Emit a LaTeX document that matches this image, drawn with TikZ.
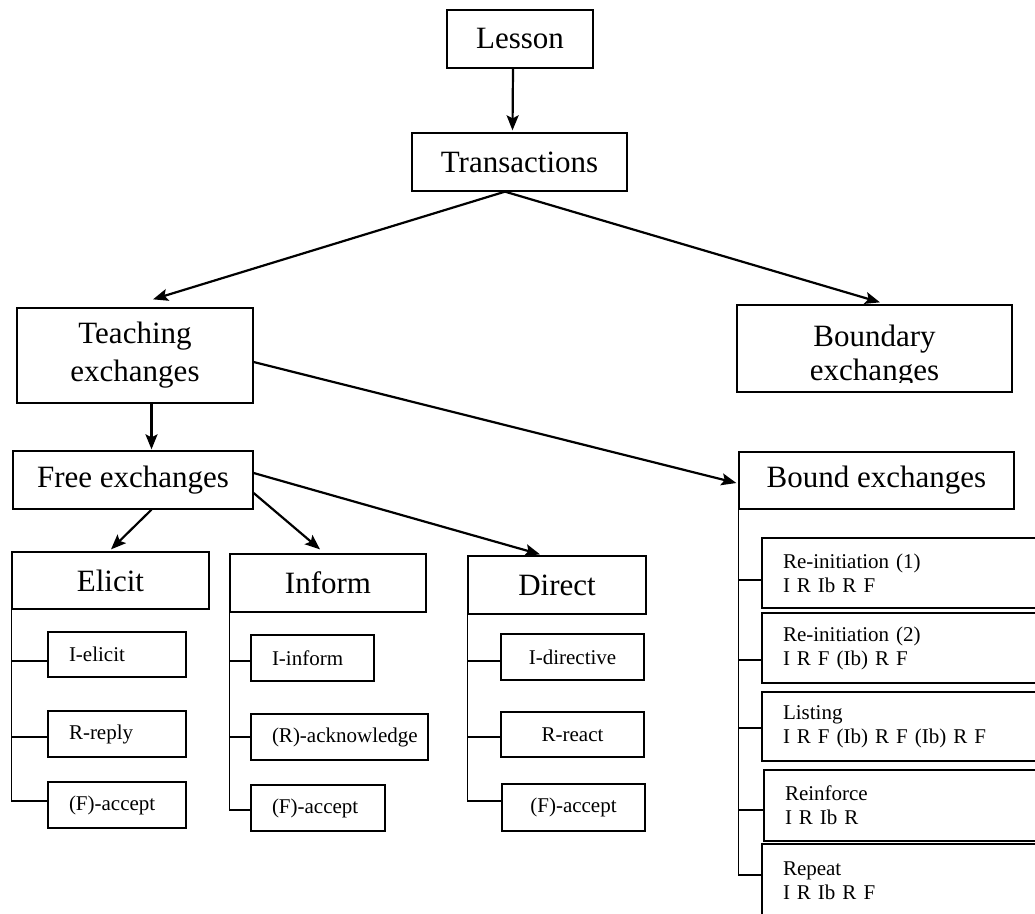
\documentclass[tikz,border=0pt]{standalone}
\usepackage{fontspec}
\setmainfont{Liberation Serif}
\usetikzlibrary{arrows.meta,calc}
\newcommand\mybigfont{\fontsize{31}{38}\selectfont}
\newcommand\mysmallfont{\fontsize{21}{24}\selectfont}
\begin{document}
\begin{tikzpicture}[x=1pt,y=-1pt,
  box/.style={draw,line width=1.3pt,inner sep=0pt,align=center},
  bigbox/.style={box,font=\mybigfont},
  leafl/.style={box,font=\mysmallfont,align=left,inner xsep=21pt},
  leafc/.style={box,font=\mysmallfont,align=center},
  arr/.style={line width=2.2pt,-{Stealth[length=15pt,width=12pt,inset=3pt]}},
  tree/.style={line width=1.3pt}]
\useasboundingbox (0,0) rectangle (1035,913);
\fill[white] (0,0) rectangle (1035,913);

% top levels
\node[bigbox,minimum width=146,minimum height=58] (lesson) at (520,39) {Lesson};
\node[bigbox,minimum width=215,minimum height=58] (trans) at (519.5,162) {Transactions};
\node[bigbox,minimum width=236,minimum height=95] (teach) at (135,355.5) {Teaching\\exchanges};
\node[box,minimum width=275,minimum height=87] (boundary) at (874.5,348.5) {};
\begin{scope}
  \clip (737,305) rectangle (1012,382);
  \node[font=\fontsize{31}{34}\selectfont,align=center,inner sep=0pt] (boundarytext) at (874.5,356) {Boundary\\exchanges};
\end{scope}
\node[bigbox,minimum width=240,minimum height=58] (free) at (133,480) {Free exchanges};
\node[bigbox,minimum width=275,minimum height=57] (bound) at (876.5,480.5) {Bound exchanges};
\node[bigbox,minimum width=197,minimum height=57] (elicit) at (110.5,580.5) {Elicit};
\node[bigbox,minimum width=196,minimum height=58] (inform) at (328,583) {Inform};
\node[bigbox,minimum width=178,minimum height=58] (direct) at (557,585) {Direct};

% elicit leaves
\node[leafl,minimum width=138,minimum height=45,text width=96] (ielicit) at (117,654.5) {I-elicit};
\node[leafl,minimum width=138,minimum height=46,text width=96] (rreply) at (117,734) {R-reply};
\node[leafl,minimum width=138,minimum height=46,text width=96] (faccE) at (117,805) {(F)-accept};
% inform leaves
\node[leafl,minimum width=123,minimum height=46,text width=81] (iinform) at (312.5,658) {I-inform};
\node[leafl,minimum width=177,minimum height=46,text width=135] (rack) at (339.5,737) {\mbox{(R)-acknowledge}};
\node[leafl,minimum width=134,minimum height=46,text width=92] (faccI) at (318,808) {(F)-accept};
% direct leaves
\node[leafc,minimum width=143,minimum height=46] (idir) at (572.5,657) {I-directive};
\node[leafc,minimum width=143,minimum height=45] (rreact) at (572.5,734.5) {R-react};
\node[leafc,minimum width=143,minimum height=47] (faccD) at (573.5,807.5) {(F)-accept};
% bound leaves
\node[leafl,minimum width=283,minimum height=70,text width=241] (reinit1) at (903.5,573) {Re-initiation (1)\\I R Ib R F};
\node[leafl,minimum width=283,minimum height=70,text width=241] (reinit2) at (903.5,648) {Re-initiation (2)\\I R F (Ib) R F};
\node[leafl,minimum width=283,minimum height=69,text width=241] (listing) at (903.5,726.5) {Listing\\I R F (Ib) R F (Ib) R F};
\node[leafl,minimum width=281,minimum height=71,text width=239] (reinforce) at (904.5,805.5) {Reinforce\\I R Ib R};
\node[leafl,minimum width=283,minimum height=74,text width=241] (repeat) at (903.5,881) {Repeat\\I R Ib R F};

% arrows
\draw[arr] ($(lesson.south)+(-7,0)$) -- ($(trans.north)+(-7,-2)$);
\draw[arr] ($(trans.south)+(-14.5,0)$) -- ($(teach.north)+(18,-8)$);
\draw[arr] ($(trans.south)+(-14.5,0)$) -- ($(boundary.north)+(5.5,-2)$);
\draw[arr] ($(teach.south)+(16.5,0)$) -- ($(free.north)+(18.5,-1)$);
\draw[arr] ($(teach.east)+(0,6.5)$) -- ($(bound.west)+(-2,2.5)$);
\draw[arr] ($(free.south)+(18.5,0)$) -- ($(elicit.north)+(0.5,-2)$);
\draw[arr] ($(free.east)+(0,13)$) -- ($(inform.north)+(-8,-4)$);
\draw[arr] ($(free.east)+(0,-7)$) -- ($(direct.north)+(-17,-1)$);

% tree lines: elicit
\coordinate (e1) at ($(ielicit.west)+(0,6.5)$);
\coordinate (e2) at ($(rreply.west)+(0,3)$);
\coordinate (e3) at ($(faccE.west)+(0,-4)$);
\draw[tree] (elicit.south west) -- (elicit.south west |- e3) -- (e3);
\draw[tree] (e1) -- (elicit.south west |- e1);
\draw[tree] (e2) -- (elicit.south west |- e2);
% inform
\coordinate (i1) at ($(iinform.west)+(0,3)$);
\coordinate (i2) at (rack.west);
\coordinate (i3) at ($(faccI.west)+(0,2)$);
\draw[tree] (inform.south west) -- (inform.south west |- i3) -- (i3);
\draw[tree] (i1) -- (inform.south west |- i1);
\draw[tree] (i2) -- (inform.south west |- i2);
% direct
\coordinate (d1) at ($(idir.west)+(0,4)$);
\coordinate (d2) at ($(rreact.west)+(0,2.5)$);
\coordinate (d3) at ($(faccD.west)+(0,-6.5)$);
\draw[tree] (direct.south west) -- (direct.south west |- d3) -- (d3);
\draw[tree] (d1) -- (direct.south west |- d1);
\draw[tree] (d2) -- (direct.south west |- d2);
% bound
\coordinate (b1) at ($(reinit1.west)+(0,7)$);
\coordinate (b2) at ($(reinit2.west)+(0,12)$);
\coordinate (b3) at ($(listing.west)+(0,1.5)$);
\coordinate (b4) at ($(reinforce.west)+(0,4.5)$);
\coordinate (b5) at ($(repeat.west)+(0,-6)$);
\draw[tree] (bound.south west) -- (bound.south west |- b5) -- (b5);
\draw[tree] (b1) -- (bound.south west |- b1);
\draw[tree] (b2) -- (bound.south west |- b2);
\draw[tree] (b3) -- (bound.south west |- b3);
\draw[tree] (b4) -- (bound.south west |- b4);
\end{tikzpicture}
\end{document}
